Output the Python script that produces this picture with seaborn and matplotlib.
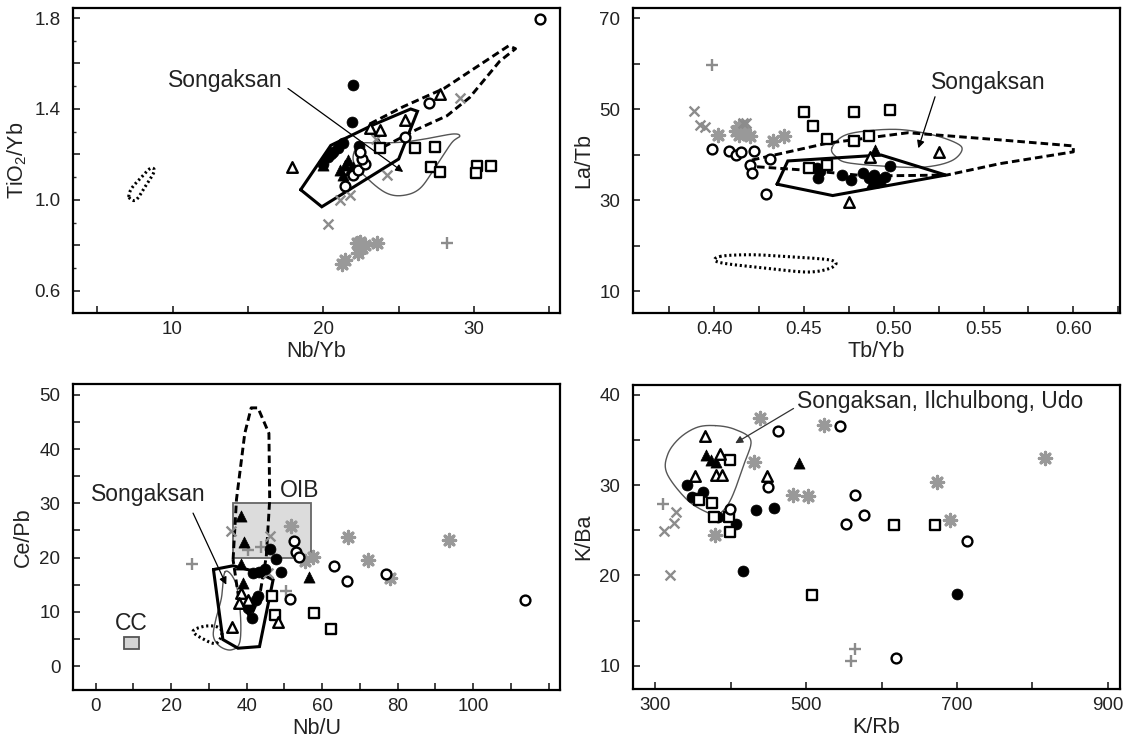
import numpy as np
import matplotlib
matplotlib.use("Agg")
import matplotlib.pyplot as plt
import seaborn as sns
from matplotlib.ticker import MultipleLocator, FuncFormatter
from matplotlib.patches import Rectangle

sns.set_theme(style="white")
plt.rcParams["font.family"] = ["Liberation Sans", "DejaVu Sans"]
plt.rcParams["mathtext.fontset"] = "custom"
plt.rcParams["mathtext.rm"] = "Liberation Sans"
plt.rcParams["mathtext.it"] = "Liberation Sans"

# ---------------- Nb/Yb vs TiO2/Yb ----------------
p1_fc = ([22.0, 21.9, 22.4, 20.0, 20.33, 20.66, 21.0, 21.33, 20.5],
         [1.505, 1.344, 1.237, 1.16, 1.19, 1.21, 1.23, 1.25, 1.20])
p1_ft = ([20.0, 21.1, 21.44, 21.77, 21.66, 22.0, 21.3],
         [1.154, 1.132, 1.154, 1.132, 1.176, 1.147, 1.11])
p1_oc = ([34.4, 21.44, 21.99, 22.3, 22.77, 22.54, 22.43, 25.42, 27.04],
         [1.794, 1.062, 1.11, 1.13, 1.16, 1.18, 1.21, 1.278, 1.425])
p1_ot = ([17.9, 27.74, 25.42, 23.76, 23.1],
         [1.147, 1.464, 1.352, 1.308, 1.315])
p1_os = ([23.76, 26.08, 27.41, 27.15, 27.74, 30.18, 31.1, 30.13],
         [1.227, 1.227, 1.234, 1.144, 1.122, 1.15, 1.15, 1.117])
p1_gx = ([29.07, 24.2, 21.77, 21.1, 20.33, 23.5],
         [1.45, 1.11, 1.022, 1.0, 0.893, 1.27])
p1_gp = ([28.19], [0.812])
p1_ga = ([22.43, 22.77, 23.54, 22.32, 21.44, 21.22, 22.21, 22.6],
         [0.817, 0.802, 0.81, 0.766, 0.736, 0.72, 0.81, 0.79])
p1_thick = [(18.5, 1.045), (19.9, 0.97), (25.0, 1.18), (26.25, 1.39),
            (25.8, 1.40), (23.3, 1.33), (20.5, 1.24)]
p1_dashed = [(23.1, 1.335), (25.3, 1.41), (28.0, 1.49), (32.3, 1.678),
             (32.75, 1.665), (31.7, 1.61), (29.7, 1.45), (28.2, 1.37),
             (26.2, 1.31), (23.9, 1.23)]
p1_thin = [(22.0, 1.17), (23.0, 1.09), (24.2, 1.03), (25.3, 1.02),
           (26.4, 1.05), (27.4, 1.14), (28.5, 1.25), (29.05, 1.28),
           (28.6, 1.29), (26.9, 1.27), (25.4, 1.255), (23.8, 1.25),
           (22.4, 1.245)]
p1_dotted = [(7.12, 1.012), (7.57, 1.0), (8.2, 1.06), (8.78, 1.125),
             (8.54, 1.139), (7.94, 1.10), (7.28, 1.05)]

# ---------------- Tb/Yb vs La/Tb ----------------
p2_fc = ([0.457, 0.458, 0.459, 0.471, 0.476, 0.483, 0.486, 0.489, 0.495, 0.498, 0.491],
         [37.0, 34.8, 36.3, 35.5, 34.4, 35.9, 34.8, 35.5, 35.1, 37.4, 34.0])
p2_ft = ([0.488, 0.493, 0.4896], [34.0, 34.4, 41.0])
p2_oc = ([0.399, 0.408, 0.412, 0.415, 0.422, 0.431, 0.420, 0.421, 0.429],
         [41.25, 40.8, 39.9, 40.5, 40.8, 39.0, 37.7, 36.0, 31.3])
p2_ot = ([0.525, 0.4868, 0.475], [40.5, 39.5, 29.6])
p2_os = ([0.450, 0.478, 0.498, 0.455, 0.463, 0.478, 0.486, 0.463, 0.453],
         [49.3, 49.3, 49.9, 46.2, 43.4, 43.0, 44.0, 37.7, 37.0])
p2_gx = ([0.389, 0.392, 0.395, 0.418, 0.416], [49.5, 46.5, 46.0, 46.9, 47.0])
p2_gp = ([0.399], [59.6])
p2_ga = ([0.402, 0.412, 0.414, 0.414, 0.417, 0.420, 0.433, 0.439],
         [44.3, 45.1, 46.3, 44.3, 44.7, 44.1, 42.9, 44.1])
p2_thick = [(0.435, 33.5), (0.441, 38.6), (0.493, 39.9), (0.529, 35.5), (0.466, 31.0)]
p2_dashed = [(0.421, 38.8), (0.463, 42.5), (0.508, 44.8), (0.560, 43.2),
             (0.600, 41.9), (0.600, 40.6), (0.559, 38.0), (0.5295, 35.5),
             (0.485, 35.3), (0.45, 36.6), (0.421, 37.4)]
p2_thin = [(0.4655, 41.4), (0.472, 44.1), (0.485, 45.2), (0.5035, 45.5),
           (0.522, 44.3), (0.535, 42.5), (0.538, 41.0), (0.533, 38.8),
           (0.522, 37.5), (0.507, 37.2), (0.476, 38.1), (0.468, 39.5)]
p2_dotted = [(0.403, 17.6), (0.42, 18.0), (0.44, 17.6), (0.465, 16.8),
             (0.466, 15.3), (0.453, 14.2), (0.43, 15.0), (0.403, 16.3)]

# ---------------- Nb/U vs Ce/Pb ----------------
p3_fc = ([46.1, 47.7, 49.2, 44.8, 43.3, 41.7, 42.6, 41.5, 40.3, 43.0],
         [21.6, 19.7, 17.3, 17.9, 17.4, 17.1, 12.2, 8.85, 10.7, 13.0])
p3_ft = ([38.6, 39.3, 38.6, 56.4, 38.9], [27.6, 22.8, 18.8, 16.4, 15.4])
p3_oc = ([52.5, 53.1, 53.9, 63.2, 66.5, 76.8, 51.5, 113.6],
         [23.0, 21.0, 20.2, 18.5, 15.6, 17.0, 12.3, 12.1])
p3_ot = ([38.6, 38.1, 40.3, 36.2, 48.3], [13.5, 11.6, 12.2, 7.3, 8.2])
p3_os = ([46.8, 47.4, 57.8, 62.4], [13.0, 9.45, 9.8, 6.8])
p3_gx = ([35.9, 46.3, 45.6], [24.9, 23.9, 17.1])
p3_gp = ([25.5, 40.3, 43.9, 50.5], [18.9, 21.4, 22.0, 13.8])
p3_ga = ([51.8, 66.8, 93.6, 72.1, 57.6, 55.4, 77.9],
         [25.9, 23.8, 23.2, 19.6, 20.1, 19.3, 16.2])
p3_thick = [(31.2, 17.8), (36.4, 18.5), (43.0, 17.3), (47.0, 15.9),
            (43.4, 3.6), (37.7, 3.3), (33.7, 4.9)]
p3_dashed = [(36.4, 19.6), (37.3, 30.7), (39.5, 42.9), (41.2, 47.6),
             (43.0, 47.6), (45.9, 42.9), (46.1, 30.7), (45.2, 20.2),
             (43.4, 12.8), (41.0, 9.0), (38.0, 12.0)]
p3_thin = [(34.3, 17.4), (33.3, 12.5), (31.8, 8.5), (31.2, 5.5), (33.0, 3.6),
           (36.0, 3.0), (38.2, 4.5), (38.3, 10.0), (37.0, 15.5)]
p3_dotted = [(25.8, 6.4), (28.5, 7.3), (31.9, 7.3), (33.5, 6.2), (31.9, 4.2), (28.5, 5.0)]
oib_box = (36.5, 57.0, 20.0, 30.0)
cc_box = (7.5, 11.4, 3.1, 5.3)

# ---------------- K/Rb vs K/Ba ----------------
p4_fc = ([342, 348.6, 363.2, 382.6, 407.4, 433.5, 458.0, 416.2, 699.8, 355],
         [30.0, 28.7, 29.2, 26.5, 25.7, 27.3, 27.5, 20.5, 17.9, 28.6])
p4_ft = ([367.6, 374.2, 380.8, 490], [33.4, 32.8, 32.6, 32.5])
p4_oc = ([462.1, 544.3, 449.5, 399.0, 564.2, 576.1, 552.7, 713.1, 619.0],
         [36.05, 36.6, 29.8, 27.4, 28.9, 26.7, 25.7, 23.8, 10.8])
p4_ot = ([366.3, 385.2, 381.0, 388.4, 352.5, 447.5],
         [35.4, 33.5, 31.1, 31.1, 31.0, 31.0])
p4_os = ([399.4, 357.4, 375.5, 377.3, 397.2, 398.5, 507.6, 615.9, 671.1],
         [32.8, 28.4, 28.0, 26.5, 26.5, 24.8, 17.8, 25.6, 25.6])
p4_gx = ([311.9, 327.8, 325.2, 319.9], [24.9, 27.0, 25.8, 20.0])
p4_gp = ([310.5, 565.0, 559.8], [27.9, 11.8, 10.55])
p4_ga = ([438.3, 523.1, 431.5, 482.8, 502.6, 379.5, 673.3, 690.1, 816.0],
         [37.4, 36.7, 32.6, 28.9, 28.75, 24.5, 30.3, 26.1, 33.0])
p4_thin = [(379.5, 36.6), (405, 36.2), (426.5, 35.0), (418, 32.4), (400, 28.4),
           (384, 26.8), (368.5, 27.0), (342, 28.4), (315.5, 31.3),
           (316.5, 33.4), (332, 35.2), (355.2, 36.4)]

GRAY = "#8c8c8c"
STYLES = {
    "fc": dict(marker="o", color="black", edgecolor="black", linewidth=0.5, s=62, zorder=4),
    "ft": dict(marker="^", color="black", edgecolor="black", linewidth=0.5, s=64, zorder=4),
    "oc": dict(marker="o", color="white", edgecolor="black", linewidth=1.7, s=50, zorder=5),
    "ot": dict(marker="^", color="white", edgecolor="black", linewidth=1.7, s=58, zorder=5),
    "os": dict(marker="s", color="white", edgecolor="black", linewidth=1.7, s=44, zorder=5),
    "gx": dict(marker="x", color=GRAY, linewidth=1.7, s=50, zorder=3),
    "gp": dict(marker="+", color=GRAY, linewidth=1.7, s=78, zorder=3),
    "ga": dict(marker=(8, 2, 0), color="#999999", linewidth=2.3, s=78, zorder=3),
}


def closed_spline(pts, n=16):
    """Closed Catmull-Rom curve running through every vertex of an outline."""
    p = np.asarray(pts, float)
    m = len(p)
    out = []
    t = np.linspace(0, 1, n, endpoint=False)[:, None]
    for i in range(m):
        p0, p1, p2, p3 = p[(i - 1) % m], p[i], p[(i + 1) % m], p[(i + 2) % m]
        out.append(0.5 * ((2 * p1) + (-p0 + p2) * t + (2 * p0 - 5 * p1 + 4 * p2 - p3) * t ** 2
                          + (-p0 + 3 * p1 - 3 * p2 + p3) * t ** 3))
    out = np.vstack(out)
    return np.vstack([out, out[:1]])


def outline(ax, pts, smooth=False, **kw):
    p = closed_spline(pts) if smooth else np.vstack([pts, pts[:1]])
    ax.plot(p[:, 0], p[:, 1], solid_joinstyle="miter", **kw)


def markers(ax, groups):
    for key, (xs, ys) in groups.items():
        sns.scatterplot(x=xs, y=ys, ax=ax, legend=False, **STYLES[key])


def style_axis(ax, xlim, ylim, xstep, xlabels, ystep, ylabels, xfmt, yfmt,
               xlabel, ylabel, yminor=None):
    ax.set_xlim(*xlim)
    ax.set_ylim(*ylim)
    ax.xaxis.set_major_locator(MultipleLocator(xstep))
    ax.yaxis.set_major_locator(MultipleLocator(ystep))
    ax.xaxis.set_major_formatter(FuncFormatter(
        lambda v, _: xfmt.format(v) if any(abs(v - t) < 1e-6 for t in xlabels) else ""))
    ax.yaxis.set_major_formatter(FuncFormatter(
        lambda v, _: yfmt.format(v) if any(abs(v - t) < 1e-6 for t in ylabels) else ""))
    if yminor:
        ax.yaxis.set_minor_locator(MultipleLocator(yminor))
        ax.tick_params(axis="y", which="minor", direction="in", left=True, length=2.5,
                       width=1.0, color="#333333")
    ax.tick_params(axis="both", which="major", direction="in", length=5, width=1.2,
                   colors="#222222", labelsize=13.5, top=False, right=False,
                   bottom=True, left=True)
    ax.tick_params(axis="x", pad=6)
    ax.tick_params(axis="y", pad=9)
    for s in ax.spines.values():
        s.set_color("black")
        s.set_linewidth(1.6)
    ax.set_xlabel(xlabel, fontsize=15.5, color="#222222", labelpad=2)
    ax.set_ylabel(ylabel, fontsize=15.5, color="#222222", labelpad=4)
    ax.grid(False)


def arrow(ax, start, end, color="black"):
    ax.annotate("", xy=end, xytext=start,
                arrowprops=dict(arrowstyle="-|>", color=color, lw=0.9,
                                mutation_scale=11, shrinkA=0, shrinkB=0), zorder=6)


fig = plt.figure(figsize=(11.26, 7.40), dpi=100)
W, H = 1126, 740
def add_ax(l, t, r, b):
    return fig.add_axes([l / W, 1 - b / H, (r - l) / W, (b - t) / H])

ax1 = add_ax(73, 8, 560, 313)
ax2 = add_ax(633, 8, 1120, 313)
ax3 = add_ax(73, 384, 560, 690)
ax4 = add_ax(633, 385, 1120, 689)

THICK = dict(color="black", lw=2.2, zorder=2)
DASH = dict(color="black", lw=2.1, ls=(0, (2.6, 1.4)), zorder=2)
DOT = dict(color="black", lw=2.2, ls=(0, (0.7, 0.9)), zorder=2)
THIN = dict(color="#555555", lw=1.0, zorder=2)
TXT = dict(fontsize=16.5, color="#222222", ha="center", va="center")

# Panel 1
outline(ax1, p1_thin, smooth=True, **THIN)
outline(ax1, p1_dashed, **DASH)
outline(ax1, p1_dotted, smooth=True, **DOT)
outline(ax1, p1_thick, **THICK)
markers(ax1, {"ga": p1_ga, "gx": p1_gx, "gp": p1_gp, "os": p1_os,
              "ot": p1_ot, "oc": p1_oc, "fc": p1_fc, "ft": p1_ft})
ax1.text(13.5, 1.527, "Songaksan", **TXT)
arrow(ax1, (17.66, 1.49), (25.3, 1.123))
style_axis(ax1, (3.4, 35.7), (0.503, 1.844), 5, [10, 20, 30], 0.2, [0.6, 1.0, 1.4, 1.8],
           "{:.0f}", "{:.1f}", "Nb/Yb", r"$\mathregular{TiO_2/Yb}$", yminor=0.1)

# Panel 2
outline(ax2, p2_thin, smooth=True, **THIN)
outline(ax2, p2_dashed, **DASH)
outline(ax2, p2_dotted, smooth=True, **DOT)
outline(ax2, p2_thick, **THICK)
markers(ax2, {"ga": p2_ga, "gx": p2_gx, "gp": p2_gp, "os": p2_os,
              "ot": p2_ot, "oc": p2_oc, "fc": p2_fc, "ft": p2_ft})
ax2.text(0.5525, 55.9, "Songaksan", **TXT)
arrow(ax2, (0.523, 52.7), (0.5137, 41.4))
style_axis(ax2, (0.3548, 0.626), (5.2, 72.2), 0.025, [0.40, 0.45, 0.50, 0.55, 0.60],
           10, [10, 30, 50, 70], "{:.2f}", "{:.0f}", "Tb/Yb", "La/Tb")

# Panel 3
ax3.add_patch(Rectangle((oib_box[0], oib_box[2]), oib_box[1] - oib_box[0],
                        oib_box[3] - oib_box[2], facecolor="#dcdcdc",
                        edgecolor="#666666", lw=1.3, zorder=1))
ax3.add_patch(Rectangle((cc_box[0], cc_box[2]), cc_box[1] - cc_box[0],
                        cc_box[3] - cc_box[2], facecolor="#d4d4d4",
                        edgecolor="#555555", lw=1.3, zorder=1))
outline(ax3, p3_thin, smooth=True, **THIN)
outline(ax3, p3_dashed, **DASH)
outline(ax3, p3_dotted, smooth=True, **DOT)
outline(ax3, p3_thick, **THICK)
markers(ax3, {"ga": p3_ga, "gx": p3_gx, "gp": p3_gp, "os": p3_os,
              "ot": p3_ot, "oc": p3_oc, "fc": p3_fc, "ft": p3_ft})
ax3.text(14.0, 31.7, "Songaksan", **TXT)
ax3.text(54.0, 32.3, "OIB", **TXT)
ax3.text(9.45, 7.9, "CC", **TXT)
arrow(ax3, (25.8, 28.2), (34.6, 15.0))
style_axis(ax3, (-6.0, 123.0), (-4.4, 52.0), 10, [0, 20, 40, 60, 80, 100], 5,
           [0, 10, 20, 30, 40, 50], "{:.0f}", "{:.0f}", "Nb/U", "Ce/Pb")

# Panel 4
outline(ax4, p4_thin, smooth=True, **THIN)
markers(ax4, {"ga": p4_ga, "gx": p4_gx, "gp": p4_gp, "os": p4_os,
              "ot": p4_ot, "oc": p4_oc, "fc": p4_fc, "ft": p4_ft})
ax4.text(487.8, 39.3, "Songaksan, Ilchulbong, Udo", fontsize=16.5, color="#222222",
         ha="left", va="center")
arrow(ax4, (483.3, 38.5), (406, 34.65), color="#333333")
style_axis(ax4, (270.5, 916), (7.42, 41.1), 100, [300, 500, 700, 900], 5,
           [10, 20, 30, 40], "{:.0f}", "{:.0f}", "K/Rb", "K/Ba")

fig.savefig("out.png", dpi=100)
